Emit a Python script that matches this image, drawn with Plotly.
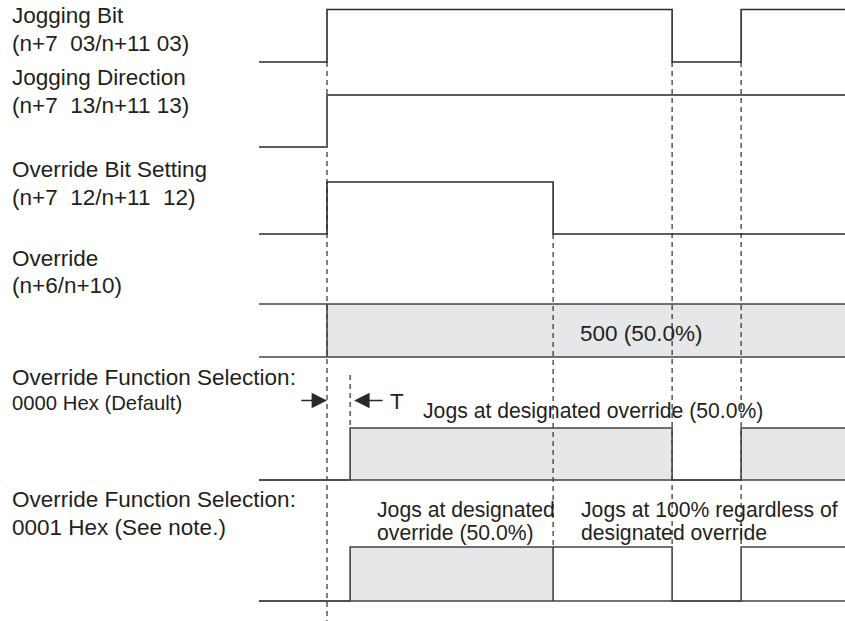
import plotly.graph_objects as go

# ---------------- data (time in arbitrary units, levels 0/1) ----------------
T_END = 17.24          # end of the observed window
T_DELAY = 0.68         # delay "T" before jogging starts

signal_names = [
    ["Jogging Bit", "(n+7\u00a0\u00a003/n+11 03)"],
    ["Jogging Direction", "(n+7\u00a0\u00a013/n+11 13)"],
    ["Override Bit Setting", "(n+7\u00a0\u00a012/n+11\u00a0\u00a012)"],
    ["Override", "(n+6/n+10)"],
    ["Override Function Selection:", "0000 Hex (Default)"],
    ["Override Function Selection:", "0001 Hex (See note.)"],
]

jog_bit_t = [0.0, 2.0, 12.15, 14.18]
jog_bit_v = [0, 1, 0, 1]

jog_dir_t = [0.0, 2.0]
jog_dir_v = [0, 1]

ovr_bit_t = [0.0, 2.0, 8.65]
ovr_bit_v = [0, 1, 0]

override_set_t = 2.0
override_value = "500 (50.0%)"

sel0_t = [0.0, 2.0 + T_DELAY, 12.15, 14.18]
sel0_v = [0, 1, 0, 1]
sel0_fill = [0, 1, 0, 1]
sel0_note = "Jogs at designated override (50.0%)"

sel1_t = [0.0, 2.0 + T_DELAY, 8.65, 12.15, 14.18]
sel1_v = [0, 1, 1, 0, 1]
sel1_fill = [0, 1, 0, 0, 0]
sel1_note_a = ["Jogs at designated", "override (50.0%)"]
sel1_note_b = ["Jogs at 100% regardless of", "designated override"]

# ---------------- layout constants ----------------
ROW = {                      # (low level, high level) vertical positions
    "jog_bit": (62, 9.5),
    "jog_dir": (147, 95),
    "ovr_bit": (234, 182),
    "override": (357, 304),
    "sel0": (480, 428),
    "sel1": (601, 547),
}
W, H = 845, 621
X0_PX, PX_PER_T = 259, 34.0
x_range = [-X0_PX / PX_PER_T, (W - X0_PX) / PX_PER_T]
y_range = [H, 0]

LINE = "#2a2a2a"
MID_LINE = "#444444"
GRAY_LINE = "#5c5c5c"
FILL = "#e6e7e9"
TXT = "#231f20"
FONT = "Liberation Sans, Arial, sans-serif"
FS_LABEL = 22.5
FS_NOTE = 21.2

fig = go.Figure()


def lv(row, v):
    low, high = ROW[row]
    return low + (high - low) * v


def step(row, ts, vs, color=LINE, width=1.6):
    xs = list(ts) + [T_END]
    ys = [lv(row, v) for v in vs] + [lv(row, vs[-1])]
    fig.add_trace(go.Scatter(x=xs, y=ys, mode="lines", line_shape="hv",
                             line=dict(color=color, width=width),
                             hoverinfo="skip", showlegend=False))


def hline(row, v, t0=0.0, t1=T_END, color=LINE, width=1.6):
    y = lv(row, v)
    fig.add_trace(go.Scatter(x=[t0, t1], y=[y, y], mode="lines",
                             line=dict(color=color, width=width),
                             hoverinfo="skip", showlegend=False))


def vline(row, t, color=LINE, width=1.6):
    fig.add_trace(go.Scatter(x=[t, t], y=[lv(row, 0), lv(row, 1)], mode="lines",
                             line=dict(color=color, width=width),
                             hoverinfo="skip", showlegend=False))


def fill_box(row, t0, t1):
    lo, hi = lv(row, 0), lv(row, 1)
    fig.add_trace(go.Scatter(x=[t0, t1, t1, t0, t0], y=[lo, lo, hi, hi, lo],
                             mode="lines", fill="toself", fillcolor=FILL,
                             line=dict(width=0), hoverinfo="skip", showlegend=False))


def fills(row, ts, flags):
    ends = list(ts[1:]) + [T_END]
    for t0, t1, f in zip(ts, ends, flags):
        if f:
            fill_box(row, t0, t1)


def dashed(t, y0, y1):
    fig.add_trace(go.Scatter(x=[t, t], y=[y0, y1], mode="lines",
                             line=dict(color="#1a1a1a", width=1.1, dash="5px,4px"),
                             hoverinfo="skip", showlegend=False))


# fills first (beneath lines)
fill_box("override", override_set_t, T_END)
fills("sel0", sel0_t, sel0_fill)
fills("sel1", sel1_t, sel1_fill)

# dashed guide lines
dashed(jog_bit_t[1], ROW["jog_bit"][0], H)
dashed(sel0_t[1], 375, ROW["sel0"][1])
dashed(ovr_bit_t[2], ROW["ovr_bit"][0], ROW["sel1"][1])
dashed(jog_bit_t[2], ROW["jog_bit"][0], ROW["sel1"][1])
dashed(jog_bit_t[3], ROW["jog_bit"][0], ROW["sel1"][1])

# signals
step("jog_bit", jog_bit_t, jog_bit_v)
step("jog_dir", jog_dir_t, jog_dir_v, color=GRAY_LINE, width=2)
step("ovr_bit", ovr_bit_t, ovr_bit_v)

hline("override", 1, color=MID_LINE)
hline("override", 0, color=MID_LINE)
vline("override", override_set_t, color=MID_LINE)

hline("sel0", 0, color=MID_LINE)
step("sel0", sel0_t, sel0_v, color=MID_LINE)
hline("sel1", 0, color=MID_LINE)
step("sel1", sel1_t, sel1_v, color=MID_LINE)
vline("sel1", sel1_t[2], color=MID_LINE)

# ---------------- text ----------------
ann = []
label_y = [(15.5, 43.5), (77.5, 105), (169, 197.5), (258, 285.5), (377.5, 402.5), (499.5, 527.5)]
for (l1, l2), (y1, y2) in zip(signal_names, label_y):
    for txt, yy in ((l1, y1), (l2, y2)):
        fs = FS_LABEL - 2.2 if txt == "0000 Hex (Default)" else FS_LABEL
        ann.append(dict(x=10 / W, xref="paper", y=yy, yref="y", text=txt,
                        showarrow=False, xanchor="left", yanchor="middle",
                        font=dict(size=fs, color=TXT, family=FONT)))

ann.append(dict(x=11.24, y=333, xref="x", yref="y", text=override_value, showarrow=False,
                xanchor="center", yanchor="middle",
                font=dict(size=FS_LABEL, color=TXT, family=FONT)))
ann.append(dict(x=4.76, y=411, xref="x", yref="y", text=sel0_note, showarrow=False,
                xanchor="left", yanchor="middle", font=dict(size=FS_NOTE, color=TXT, family=FONT)))
for i, (a, b) in enumerate(zip(sel1_note_a, sel1_note_b)):
    yy = 509.5 + 23 * i
    ann.append(dict(x=3.40, y=yy, xref="x", yref="y", text=a, showarrow=False,
                    xanchor="left", yanchor="middle", font=dict(size=FS_NOTE, color=TXT, family=FONT)))
    ann.append(dict(x=9.40, y=yy, xref="x", yref="y", text=b, showarrow=False,
                    xanchor="left", yanchor="middle", font=dict(size=FS_NOTE, color=TXT, family=FONT)))

# T delay arrows
ann.append(dict(x=jog_bit_t[1], y=400.5, xref="x", yref="y", ax=jog_bit_t[1] - 0.8, ay=400.5,
                axref="x", ayref="y", text="", showarrow=True, arrowhead=2, arrowsize=2.2,
                arrowwidth=1.4, arrowcolor=LINE))
ann.append(dict(x=sel0_t[1] + 0.12, y=400.5, xref="x", yref="y", ax=sel0_t[1] + 1.0, ay=400.5,
                axref="x", ayref="y", text="", showarrow=True, arrowhead=2, arrowsize=2.2,
                arrowwidth=1.4, arrowcolor=LINE))
ann.append(dict(x=sel0_t[1] + 1.38, y=401, xref="x", yref="y", text="T", showarrow=False,
                xanchor="center", yanchor="middle", font=dict(size=FS_LABEL, color=TXT, family=FONT)))

fig.update_layout(
    width=W, height=H, margin=dict(l=0, r=0, t=0, b=0),
    paper_bgcolor="white", plot_bgcolor="white",
    xaxis=dict(range=x_range, visible=False, showgrid=False, zeroline=False, fixedrange=True),
    yaxis=dict(range=y_range, visible=False, showgrid=False, zeroline=False, fixedrange=True),
    annotations=ann, showlegend=False,
)

fig.write_html("out.html", config={"displayModeBar": False},
               post_script="document.body.style.margin='0';document.body.style.overflow='hidden';")
